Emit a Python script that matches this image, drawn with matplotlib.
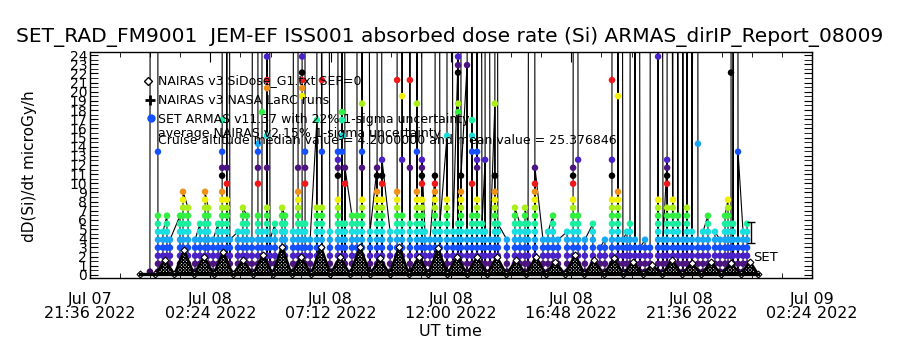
import datetime as dt
import matplotlib
matplotlib.use("Agg")
import matplotlib.pyplot as plt
from matplotlib.ticker import MultipleLocator

T0 = dt.datetime(2022, 7, 7, 21, 36)

# SET ARMAS quantised dose-rate steps (microGy/h), index = step number
level_vals = [0.36, 1.23, 2.10, 2.98, 3.85, 4.72, 5.59, 6.47, 7.34, 8.21, 9.08,
              9.96, 10.83, 11.70, 12.57, 13.45, 14.32, 15.19, 16.90, 17.78,
              18.70, 19.52, 20.39, 21.27, 22.08, 22.90, 23.83]
# colour table (wraps every 12 steps), first entry only for step 0
level_cols = ['#3a0860', '#4c1480', '#4a22c8', '#1450ff', '#18a8f8', '#18e0e0',
              '#18f0a0', '#30f040', '#a8f018', '#f0f000', '#f09018', '#f01818',
              '#000000']

# ARMAS samples: hours after 21:36 Jul 07, highest contiguous step, isolated higher steps
arm_hours = [2.39, 2.71, 2.91, 3.07, 3.19, 3.59, 3.71, 3.91, 4.19, 4.39, 4.59, 4.71,
             4.91, 5.11, 5.27, 5.46, 5.58, 5.90, 6.10, 6.26, 6.46, 6.70, 6.86, 7.06,
             7.18, 7.38, 7.66, 7.78, 8.10, 8.30, 8.46, 8.58, 8.78, 9.05, 9.25, 9.57,
             9.89, 10.05, 10.17, 10.45, 10.65, 10.85, 11.17, 11.45, 11.65, 11.97,
             12.25, 12.45, 12.76, 13.04, 13.24, 13.36, 13.56, 13.76, 13.96, 14.24,
             14.48, 14.68, 14.80, 15.04, 15.24, 15.44, 15.64, 15.76, 15.96, 16.15,
             16.27, 16.63, 16.95, 17.15, 17.35, 17.47, 17.75, 18.07, 18.27, 18.47,
             18.67, 19.03, 19.27, 19.47, 19.74, 20.06, 20.34, 20.54, 20.82, 21.06,
             21.26, 21.42, 21.54, 21.74, 21.94, 22.14, 22.34, 22.66, 22.86, 23.02,
             23.25, 23.45, 23.65, 23.81, 24.01, 24.25, 24.45, 24.65, 24.93, 25.13,
             25.33, 25.45, 25.57, 25.65, 25.85, 26.05, 26.21]
arm_top = [0, 7, 5, 7, 4, 7, 10, 8, 4, 6, 10, 8,
           4, 6, 10, 9, 4, 5, 8, 7, 4, 7, 5, 8,
           4, 6, 8, 7, 5, 10, 6, 6, 4, 8, 8, 5,
           9, 6, 6, 7, 7, 9, 5, 10, 9, 5,
           10, 7, 6, 10, 9, 5, 4, 10, 6, 9,
           5, 6, 10, 5, 7, 9, 6, 5, 4, 10,
           6, 4, 8, 6, 8, 6, 11, 4, 5, 7,
           4, 5, 9, 7, 4, 6, 3, 4, 9, 10,
           4, 5, 6, 4, 3, 4, 3, 9, 4, 8,
           9, 7, 4, 8, 5, 4, 5, 7, 5, 4,
           7, 9, 4, 6, 4, 5, 6]
arm_extra = [[], [15], [], [], [], [], [], [], [], [], [], [],
             [], [], [12, 13, 15, 18], [11, 13], [], [], [], [], [], [11, 13, 15, 16], [19], [13, 17, 22, 23, 26],
             [], [], [], [], [], [13], [21, 22, 23, 24, 26], [11, 13, 15], [], [18], [15, 23], [],
             [12, 13, 14, 15], [15, 17, 18, 19], [11, 13], [], [], [13, 15, 20], [], [12, 13], [11, 12, 14], [],
             [23], [14, 21], [13, 23], [15, 20], [11, 12, 13, 14], [], [], [11, 12], [], [17],
             [], [19, 20, 24, 25, 26], [12], [25], [11, 15, 17, 18], [13, 14, 15], [], [14], [], [12, 20],
             [], [], [], [], [], [], [13], [], [], [],
             [], [], [11, 12, 13], [14], [], [], [], [], [12, 14, 23], [21],
             [], [], [], [], [], [], [], [26], [], [11, 12, 13, 14],
             [], [], [], [], [], [16], [], [], [], [],
             [], [], [24], [], [15], [], []]

# off-scale bursts (value far above the 24 microGy/h axis top)
spike_hours = [2.47, 2.67, 5.31, 5.46, 6.66, 6.86, 7.06, 8.26, 8.50, 9.05, 9.25,
               9.89, 10.09, 10.65, 10.85, 11.49, 12.25, 12.45, 12.72, 13.00, 13.16,
               13.84, 14.24, 14.76, 15.08, 15.24, 15.44, 15.76, 16.15, 17.67, 19.35,
               20.86, 21.06, 21.62, 21.78, 22.42, 22.66, 23.02, 23.25, 23.53, 23.73,
               23.93, 24.21, 25.61, 25.81]
spike_val = 300.0

# NAIRAS v3 model: orbit-pass maxima and the minima around them
nairas_peak_hours = [2.99, 3.75, 4.55, 5.31, 6.10, 6.90, 7.66, 8.42, 9.21, 9.97, 10.77,
                     11.57, 12.33, 13.12, 13.88, 14.64, 15.44, 16.23, 16.99, 17.79, 18.55,
                     19.35, 20.10, 20.90, 21.66, 22.42, 23.21, 24.01, 24.77, 25.57, 26.33]
nairas_peak_vals = [1.6, 2.7, 2.0, 2.5, 1.6, 2.2, 3.1, 2.0, 3.1, 2.0, 3.1,
                    1.8, 3.1, 2.0, 2.9, 2.0, 2.0, 2.0, 1.6, 2.0, 1.45,
                    2.2, 1.6, 1.8, 1.45, 1.1, 1.6, 1.3, 1.45, 1.3, 1.45]
nairas_low_hours = [2.00, 2.61, 3.37, 4.15, 4.93, 5.70, 6.50, 7.28, 8.04, 8.82, 9.59,
                    10.37, 11.17, 11.95, 12.72, 13.50, 14.26, 15.04, 15.84, 16.61, 17.39,
                    18.17, 18.95, 19.72, 20.50, 21.28, 22.04, 22.82, 23.61, 24.39, 25.17,
                    25.95, 26.65]
nairas_low_val = 0.08

xtick_hours = [0, 4.8, 9.6, 14.4, 19.2, 24.0, 28.8]


def tt(h):
    return T0 + dt.timedelta(hours=h)


def level_color(k):
    if k == 0:
        return level_cols[0]
    return level_cols[(k - 1) % 12 + 1]


# build the time-ordered series
events = []
for i, (h, top, extra) in enumerate(zip(arm_hours, arm_top, arm_extra)):
    ks = list(range(top + 1)) + extra
    if i % 2:
        ks = ks[::-1]
    events.append((h, 0, ks))
for h in spike_hours:
    events.append((h, 1, None))
events.sort(key=lambda e: (e[0], e[1]))

line_t, line_v = [], []
mk_t, mk_v, mk_c = [], [], []
for h, kind, ks in events:
    if kind == 1:
        line_t.append(tt(h))
        line_v.append(spike_val)
        continue
    for k in ks:
        line_t.append(tt(h))
        line_v.append(level_vals[k])
        mk_t.append(tt(h))
        mk_v.append(level_vals[k])
        mk_c.append(level_color(k))

# low, low, peak, low, peak, ... , peak, low
n_t = [tt(nairas_low_hours[0]), tt(nairas_low_hours[1])]
n_v = [nairas_low_val, nairas_low_val]
for hp, vp, hl in zip(nairas_peak_hours, nairas_peak_vals, nairas_low_hours[2:]):
    n_t += [tt(hp), tt(hl)]
    n_v += [vp, nairas_low_val]

plt.rcParams['font.family'] = 'DejaVu Sans'
plt.rcParams['hatch.linewidth'] = 0.9

fig = plt.figure(figsize=(9, 3.5), dpi=100)
ax = fig.add_axes([90 / 900, 1 - 278 / 350, 722 / 900, 226 / 350])

ax.plot(line_t, line_v, color='k', lw=0.8, zorder=2)
ax.scatter(mk_t, mk_v, c=mk_c, s=22, marker='o', linewidths=0, zorder=3)

# model curve: open triangles with a checkered inside, like the dense diamond trace
ax.fill_between(n_t, n_v, 0, facecolor='white', edgecolor='k', hatch='xxxxxxxxxx',
                linewidth=0, zorder=4)
ax.plot(n_t, n_v, color='k', lw=1.8, marker='D', ms=3.5, mfc='white', mec='k',
        mew=0.8, zorder=5)
ax.plot([n_t[0], n_t[-1]], [nairas_low_val] * 2, color='k', lw=2.4, zorder=5)

# 22 % uncertainty bar and label
ax.errorbar([tt(26.37)], [4.67], yerr=[1.15], color='k', capsize=3, lw=1, zorder=6)
ax.text(tt(26.45), 1.96, 'SET', fontsize=9.5, va='center', ha='left', zorder=6)

ax.set_xlim(tt(0), tt(28.8))
ax.set_ylim(-0.33, 24.33)

ax.set_xticks([tt(h) for h in xtick_hours],
              labels=[tt(h).strftime('%b %d\n%H:%M %Y') for h in xtick_hours])
ax.set_xticks([tt(h) for h in [x * 1.2 for x in range(25)]], minor=True)
ax.yaxis.set_major_locator(MultipleLocator(1))
ax.yaxis.set_minor_locator(MultipleLocator(0.5))
ax.tick_params(axis='x', which='major', direction='in', length=7, top=True,
               labelsize=11.5, pad=10)
ax.tick_params(axis='x', which='minor', direction='in', length=3.5, top=True)
ax.tick_params(axis='y', which='both', direction='in', length=5.5, right=True,
               labelsize=10, pad=2)
for t in ax.get_xticklabels():
    t.set_linespacing(0.9)
for s in ax.spines.values():
    s.set_linewidth(1.0)

# legend drawn IDL style
leg = [(81, 'NAIRAS v3 SiDose_G1.txt SEP=0'),
       (100, 'NAIRAS v3 NASA LaRC runs'),
       (119, 'SET ARMAS v11.37 with 22% 1-sigma uncertainty'),
       (133, 'average NAIRAS v2 15% 1-sigma uncertainty'),
       (141, 'Cruise altitude median value = 4.2000000 and mean value = 25.376846')]
for y, s in leg:
    fig.text(158 / 900, 1 - y / 350, s, fontsize=9, va='center', ha='left', zorder=10)
fig.lines.append(plt.Line2D([148 / 900], [1 - 81 / 350], marker='D', ms=4, mfc='white',
                            mec='k', mew=1, transform=fig.transFigure))
fig.lines.append(plt.Line2D([150 / 900], [1 - 100 / 350], marker='+', ms=7, color='k',
                            mew=2, transform=fig.transFigure))
fig.lines.append(plt.Line2D([151 / 900], [1 - 118 / 350], marker='o', ms=5, color='#1450ff',
                            transform=fig.transFigure))

fig.text(0.5, 1 - 37 / 350,
         'SET_RAD_FM9001  JEM-EF ISS001 absorbed dose rate (Si) ARMAS_dirIP_Report_08009',
         fontsize=14.5, ha='center', va='center')
fig.text(30 / 900, 1 - 166 / 350, 'dD(Si)/dt microGy/h', rotation=90, fontsize=11,
         ha='center', va='center')
fig.text(0.5, 1 - 331 / 350, 'UT time', fontsize=11.5, ha='center', va='center')

fig.savefig('out.png', dpi=100, facecolor='white')
